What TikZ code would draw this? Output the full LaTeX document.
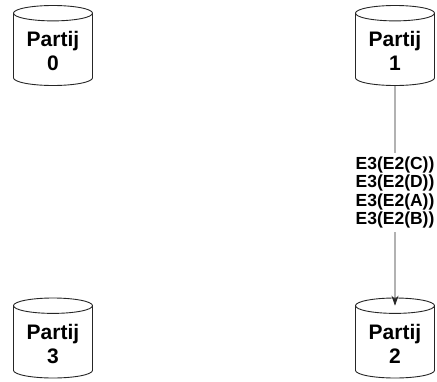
\documentclass[tikz,border=0pt]{standalone}
\usepackage{fontspec}
\setmainfont{Liberation Sans}
\usetikzlibrary{arrows.meta,shapes.geometric,calc}
\tikzset{
    %Define standard arrow tip
    >={Stealth[length=10pt,width=7pt]},
    %Define style for the databases
    partij/.style={
           cylinder,
           shape border rotate=90,
           anchor=shape center,
           draw=black!85,
           line width=0.9pt,
           aspect=0.26,
           minimum width=79pt,
           minimum height=80pt,
           align=center,
           font=\fontsize{21}{24}\selectfont\bfseries,},
    %Define style for the message stack
    berichten/.style={
           fill=white,
           align=center,
           inner sep=3pt,
           font=\fontsize{17.5}{18.6}\selectfont\bfseries,},
    pil/.style={
           ->,
           draw=black!85,
           line width=0.8pt,}
}

\begin{document}
\begin{tikzpicture}
 \useasboundingbox (0,0) rectangle (437pt,-381pt);
 %databases
 \node[partij] (partij0) at (53pt,-45.5pt) {Partij\\0};
 \node[partij] (partij1) at (395pt,-45.5pt) {Partij\\1};
 \node[partij] (partij2) at (395pt,-338pt) {Partij\\2};
 \node[partij] (partij3) at (53pt,-338pt) {Partij\\3};

 %arrow ends in the middle of the lid
 \coordinate (in2) at ($(partij2.before top)!0.5!(partij2.after top)$);
 \draw[pil] (partij1) -- node[berichten, pos=0.485] (msgs)
     {E3(E2(C))\\E3(E2(D))\\E3(E2(A))\\E3(E2(B))} (in2);

\end{tikzpicture}
\end{document}
